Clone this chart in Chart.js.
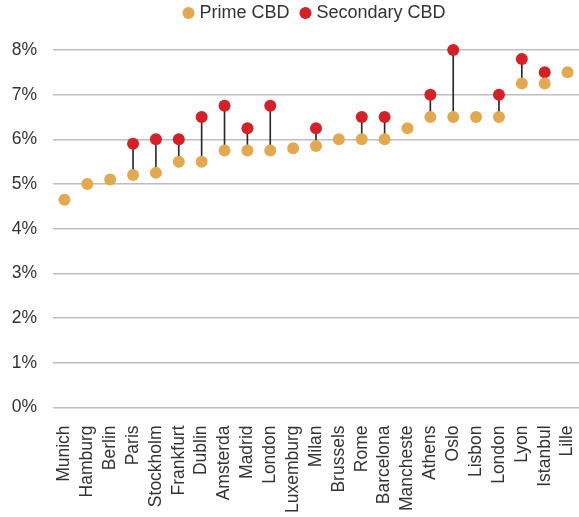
<!DOCTYPE html>
<html>
<head>
<meta charset="utf-8">
<script src="https://cdn.jsdelivr.net/npm/chart.js@4/dist/chart.umd.min.js"></script>
<style>
  html, body { margin: 0; padding: 0; background: #fff; }
  #wrap { width: 579px; height: 517px; }
</style>
</head>
<body>
<div id="wrap"><canvas id="c"></canvas></div>
<script>
// Office yields by city (%)
const cities = ["Munich", "Hamburg", "Berlin", "Paris", "Stockholm", "Frankfurt", "Dublin",
  "Amsterda", "Madrid", "London", "Luxemburg", "Milan", "Brussels", "Rome", "Barcelona",
  "Mancheste", "Athens", "Oslo", "Lisbon", "London", "Lyon", "Istanbul", "Lille"];
const primeCBD = [4.65, 5.0, 5.1, 5.2, 5.25, 5.5, 5.5, 5.75, 5.75, 5.75, 5.8, 5.85, 6.0, 6.0, 6.0,
  6.25, 6.5, 6.5, 6.5, 6.5, 7.25, 7.25, 7.5];
const secondaryCBD = [null, null, null, 5.9, 6.0, 6.0, 6.5, 6.75, 6.25, 6.75, null, 6.25, null, 6.5, 6.5,
  null, 7.0, 8.0, null, 7.0, 7.8, 7.5, null];
const yTicks = [0, 1, 2, 3, 4, 5, 6, 7, 8];

// Stems joining the two yields of each city
const stems = primeCBD.map((p, i) => secondaryCBD[i] == null ? null : [p, secondaryCBD[i]]);

const family = "'Liberation Sans', Arial, sans-serif";
const tickFont = { family: family, size: 17.5 };
const legendFont = { family: family, size: 18 };

// Extra room under the legend
const legendGap = {
  id: 'legendGap',
  beforeInit(chart) {
    const fit = chart.legend.fit;
    chart.legend.fit = function () {
      fit.call(this);
      this.height += 18;
    };
  }
};

new Chart(document.getElementById('c'), {
  data: {
    labels: cities,
    datasets: [
      {
        type: 'line', label: 'Prime CBD', data: primeCBD, showLine: false, clip: false,
        pointRadius: 6, pointHoverRadius: 6, pointBorderWidth: 0,
        backgroundColor: '#E3A951', borderColor: '#E3A951', order: 1
      },
      {
        type: 'line', label: 'Secondary CBD', data: secondaryCBD, showLine: false, clip: false,
        pointRadius: 6, pointHoverRadius: 6, pointBorderWidth: 0,
        backgroundColor: '#D42027', borderColor: '#D42027', order: 1
      },
      {
        type: 'bar', label: 'stem', data: stems, barThickness: 1,
        backgroundColor: '#2a2a2a', borderWidth: 0, order: 2
      }
    ]
  },
  plugins: [legendGap],
  options: {
    responsive: true,
    maintainAspectRatio: false,
    animation: false,
    layout: { autoPadding: false, padding: { left: 12, right: 0, top: -10, bottom: 2 } },
    plugins: {
      tooltip: { enabled: false },
      legend: {
        position: 'top',
        fullSize: false,
        labels: {
          filter: item => item.text !== 'stem',
          usePointStyle: true,
          pointStyle: 'circle',
          boxWidth: 4, boxHeight: 8.5,
          padding: 14,
          color: '#333',
          font: legendFont
        }
      }
    },
    scales: {
      x: {
        offset: true,
        grid: { display: true, drawOnChartArea: false, drawTicks: true, tickLength: 16, color: 'rgba(0,0,0,0)' },
        border: { display: false },
        ticks: {
          autoSkip: false, maxRotation: 90, minRotation: 90,
          padding: 2, color: '#333', font: tickFont
        },
        afterFit: axis => { axis.paddingLeft = 0; axis.paddingRight = 0; }
      },
      y: {
        min: 0, max: 8,
        afterBuildTicks: axis => { axis.ticks = yTicks.map(v => ({ value: v })); },
        grid: { color: '#bdbdbd', lineWidth: 1.5, drawTicks: false },
        border: { display: false },
        ticks: {
          padding: 16, color: '#333', font: tickFont,
          callback: v => v + '%'
        },
        afterFit: axis => { axis.width = 41; axis.paddingTop = 0; axis.paddingBottom = 0; }
      }
    }
  }
});
</script>
</body>
</html>
